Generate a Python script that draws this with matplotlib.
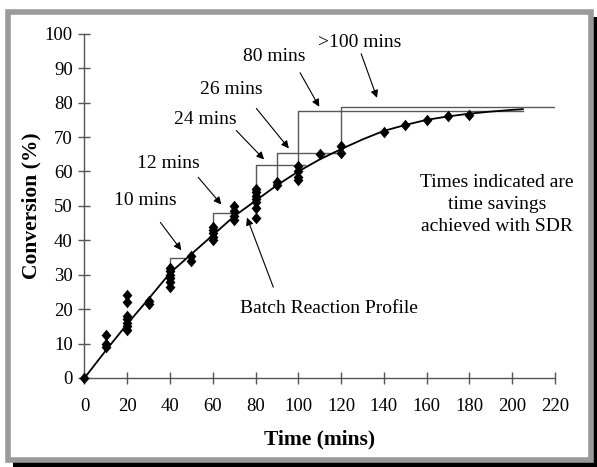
import numpy as np
import matplotlib
matplotlib.use("Agg")
from matplotlib import pyplot as plt
from matplotlib.patches import Rectangle

plt.rcParams['font.family'] = ['Liberation Serif', 'DejaVu Serif']

# measured batch data (time in mins, conversion in %)
batch_time = [0,
              10, 10, 10,
              20, 20, 20, 20, 20, 20, 20,
              30, 30,
              40, 40, 40, 40, 40, 40,
              50, 50,
              60, 60, 60, 60, 60,
              70, 70, 70, 70,
              80, 80, 80, 80, 80, 80, 80,
              90, 90,
              100, 100, 100, 100,
              110,
              120, 120,
              140, 150, 160, 170, 180]
batch_conv = [0,
              9, 10, 12.5,
              14, 15, 16, 17, 18, 22, 24,
              21.5, 22.5,
              26.5, 28, 29, 30, 31, 32,
              34, 35.5,
              40, 41, 42, 43, 44,
              46, 47, 48.5, 50,
              46.5, 49.5, 51, 52, 53, 54, 55,
              56, 57,
              57.5, 58.5, 60, 61.5,
              65,
              65.5, 67.5,
              71.5, 73.5, 75, 76, 76.5]

# batch reaction profile (fitted line)
profile_time = [0, 10, 20, 30, 40, 50, 60, 70, 80, 90, 100, 110, 120,
                130, 140, 150, 160, 170, 180, 190, 200, 205]
profile_conv = [0, 8, 15.7, 23, 30.5, 36, 41.5, 47, 51.5, 56, 60, 63.5, 66.5,
                69.3, 71.8, 73.5, 75, 76, 76.8, 77.4, 77.9, 78.1]

# SDR steps: start time, conversion at start, jump level, end time
step_start = [40, 60, 80, 90, 100, 120]
step_base = [30.5, 41.5, 51.5, 56, 60, 66.5]
step_level = [35, 48, 62, 65.5, 77.7, 78.8]
step_end = [47, 70.5, 103, 118, 205, 220]

# time saving labels
saving_labels = ['10 mins', '12 mins', '24 mins', '26 mins', '80 mins', '>100 mins']
label_pos = [(28.5, 51.6), (39.2, 62.3), (56.5, 75), (68.7, 83.8), (88.7, 93.3), (128.5, 97.4)]
arrow_tail = [(35.5, 45.2), (53.2, 58.3), (71, 71.9), (80.4, 78.3), (100.8, 88.7), (129.4, 94.2)]
arrow_head = [(45.3, 37.1), (64, 50.4), (84, 63.5), (95.6, 66.7), (109.8, 78.8), (136.8, 81.4)]

# slightly tall diamond, like the excel marker
diamond = [(0, 1), (0.85, 0), (0, -1), (-0.85, 0), (0, 1)]


def px(x, y):
    """ pixel coords (top-left origin) to figure fraction """
    return x / 597, 1 - y / 467


fig = plt.figure(figsize=(5.97, 4.67), dpi=100)

# framed box with black drop shadow
fig.patches.append(Rectangle(px(13, 467), 584 / 597, 450 / 467, transform=fig.transFigure,
                             facecolor='black', edgecolor='none', zorder=-3))
fig.patches.append(Rectangle(px(8, 459.5), 582.5 / 597, 447.5 / 467, transform=fig.transFigure,
                             facecolor='white', edgecolor='#9a9a9a', linewidth=4, zorder=-2))

ax = fig.add_axes([0.1415, 0.1906, 0.788, 0.737])
ax.set_facecolor('none')

# steps
for x0, yb, yl, x1 in zip(step_start, step_base, step_level, step_end):
    ax.plot([x0, x0, x1], [yb, yl, yl], color='#585858', lw=1.0, zorder=2)

ax.plot(profile_time, profile_conv, color='black', lw=1.3, zorder=3)
ax.plot(batch_time, batch_conv, linestyle='none', marker=diamond, markersize=8.3,
        markeredgewidth=0, color='black', clip_on=False, zorder=4)

for lab, pos, tail, head in zip(saving_labels, label_pos, arrow_tail, arrow_head):
    ax.text(pos[0], pos[1], lab, fontsize=14, ha='center', va='center')
    ax.annotate('', xy=head, xytext=tail,
                arrowprops=dict(arrowstyle='-|>', color='black', lw=0.8,
                                mutation_scale=11, shrinkA=0, shrinkB=0))

ax.text(114.5, 20.3, 'Batch Reaction Profile', fontsize=14, ha='center', va='center')
ax.annotate('', xy=(76, 46.6), xytext=(88.3, 26.4),
            arrowprops=dict(arrowstyle='-|>', color='black', lw=0.8,
                            mutation_scale=11, shrinkA=0, shrinkB=0))

ax.text(193, 50.4, 'Times indicated are\ntime savings\nachieved with SDR',
        fontsize=14, ha='center', va='center', linespacing=1.35)

ax.set_xlim(0, 220)
ax.set_ylim(0, 100)
ax.set_xticks(np.arange(0, 221, 20))
ax.set_yticks(np.arange(0, 101, 10))

for side in ['top', 'right']:
    ax.spines[side].set_visible(False)
for side in ['left', 'bottom']:
    ax.spines[side].set_color('#555555')
    ax.spines[side].set_linewidth(1.0)

ax.tick_params(direction='inout', length=9, width=1.0, color='#555555',
               labelsize=13.5)
ax.tick_params(axis='x', pad=10)
ax.tick_params(axis='y', pad=4)

ax.set_xlabel('Time (mins)', fontsize=15.5, fontweight='bold', labelpad=10)
ax.set_ylabel('Conversion (%)', fontsize=15.5, fontweight='bold', labelpad=2)

fig.savefig('out.png', dpi=100)
